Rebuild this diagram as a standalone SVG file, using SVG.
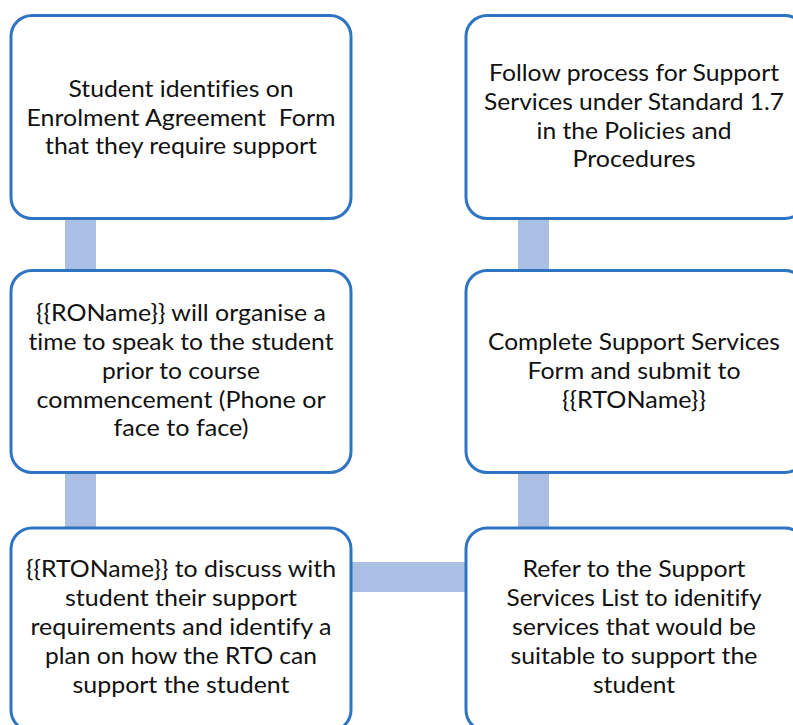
<svg xmlns="http://www.w3.org/2000/svg" width="793" height="725" viewBox="0 0 793 725">
<style>
.box{fill:#ffffff;stroke:#2F74C3;stroke-width:3}
.con{fill:#ABBFE5}
text{font-family:Lato,"Liberation Sans",sans-serif;font-size:23px;fill:#111111;text-anchor:middle;font-variant-ligatures:none;white-space:pre}
</style>
<rect width="793" height="725" fill="#ffffff"/>
<g id="connectors">
<rect class="con" x="65" y="218" width="31" height="54"/>
<rect class="con" x="65" y="472" width="31" height="57"/>
<rect class="con" x="518" y="218" width="31" height="54"/>
<rect class="con" x="518" y="472" width="31" height="57"/>
<rect class="con" x="351" y="562" width="116" height="30"/>
</g>
<g id="n1">
<rect class="box" x="11" y="15.5" width="340" height="203" rx="21"/>
<text x="181" y="97" textLength="225" lengthAdjust="spacingAndGlyphs">Student identifies on</text>
<text x="181" y="125.5" textLength="309" lengthAdjust="spacingAndGlyphs">Enrolment Agreement&#160; Form</text>
<text x="181" y="154" textLength="272" lengthAdjust="spacingAndGlyphs">that they require support</text>
</g>
<g id="n2">
<rect class="box" x="11" y="270.5" width="340" height="202" rx="21"/>
<text x="181" y="321" textLength="290" lengthAdjust="spacingAndGlyphs">{{ROName}} will organise a</text>
<text x="181" y="350" textLength="305" lengthAdjust="spacingAndGlyphs">time to speak to the student</text>
<text x="181" y="378.5" textLength="158" lengthAdjust="spacingAndGlyphs">prior to course</text>
<text x="181" y="407.5" textLength="289" lengthAdjust="spacingAndGlyphs">commencement (Phone or</text>
<text x="181" y="436" textLength="135" lengthAdjust="spacingAndGlyphs">face to face)</text>
</g>
<g id="n3">
<rect class="box" x="11" y="528" width="340" height="203" rx="21"/>
<text x="181" y="577" textLength="310" lengthAdjust="spacingAndGlyphs">{{RTOName}} to discuss with</text>
<text x="181" y="606" textLength="232" lengthAdjust="spacingAndGlyphs">student their support</text>
<text x="181" y="635" textLength="301" lengthAdjust="spacingAndGlyphs">requirements and identify a</text>
<text x="181" y="663.5" textLength="272" lengthAdjust="spacingAndGlyphs">plan on how the RTO can</text>
<text x="181" y="692.5" textLength="217" lengthAdjust="spacingAndGlyphs">support the student</text>
</g>
<g id="n4">
<rect class="box" x="466" y="528" width="340" height="203" rx="21"/>
<text x="634" y="577" textLength="223" lengthAdjust="spacingAndGlyphs">Refer to the Support</text>
<text x="634" y="606" textLength="255" lengthAdjust="spacingAndGlyphs">Services List to idenitify</text>
<text x="634" y="635" textLength="244" lengthAdjust="spacingAndGlyphs">services that would be</text>
<text x="634" y="663.5" textLength="247" lengthAdjust="spacingAndGlyphs">suitable to support the</text>
<text x="634" y="692.5" textLength="82" lengthAdjust="spacingAndGlyphs">student</text>
</g>
<g id="n5">
<rect class="box" x="466" y="270.5" width="340" height="202" rx="21"/>
<text x="634" y="350" textLength="292" lengthAdjust="spacingAndGlyphs">Complete Support Services</text>
<text x="634" y="378.5" textLength="213" lengthAdjust="spacingAndGlyphs">Form and submit to</text>
<text x="634" y="407.5" textLength="144" lengthAdjust="spacingAndGlyphs">{{RTOName}}</text>
</g>
<g id="n6">
<rect class="box" x="466" y="15.5" width="340" height="203" rx="21"/>
<text x="634" y="81" textLength="290" lengthAdjust="spacingAndGlyphs">Follow process for Support</text>
<text x="634" y="110" textLength="300" lengthAdjust="spacingAndGlyphs">Services under Standard 1.7</text>
<text x="634" y="138.5" textLength="195" lengthAdjust="spacingAndGlyphs">in the Policies and</text>
<text x="634" y="167" textLength="123" lengthAdjust="spacingAndGlyphs">Procedures</text>
</g>
</svg>
